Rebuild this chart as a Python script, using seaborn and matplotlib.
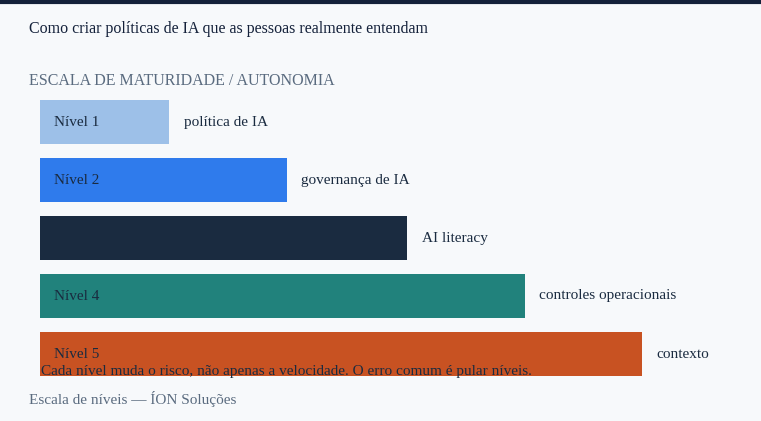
import matplotlib
matplotlib.use("Agg")
import matplotlib.pyplot as plt
import seaborn as sns
import pandas as pd

levels = ["Nível 1", "Nível 2", "Nível 3", "Nível 4", "Nível 5"]
values = [21.5, 41, 61, 80.5, 100]
labels = ["política de IA", "governança de IA", "AI literacy", "controles operacionais", "contexto"]
colors = ["#9dc0e8", "#2f7bec", "#1a2b40", "#21827c", "#c85222"]

sns.set_theme(style="white")
plt.rcParams["font.family"] = ["Liberation Serif", "DejaVu Sans"]

W, H = 761, 421
bg = "#f7f9fb"
fig = plt.figure(figsize=(W / 100, H / 100), dpi=100, facecolor=bg)
ax = fig.add_axes([40 / W, 1 - 383 / H, 700 / W, 290 / H])
ax.set_facecolor("none")

df = pd.DataFrame({"level": levels, "value": values})
sns.barplot(data=df, y="level", x="value", hue="level", palette=colors, legend=False,
            orient="h", width=0.76, ax=ax, saturation=1, linewidth=0)
ax.set_xlim(0, 100 * 700 / 602)
ax.set_ylim(4.5, -0.5)
ax.axis("off")

for i, (lv, v, lb) in enumerate(zip(levels, values, labels)):
    ax.text(2.4, i, lv, va="center", ha="left", fontsize=11, color="#1a2b40")
    ax.text(v + 2.4, i, lb, va="center", ha="left", fontsize=11, color="#1a2b40")

fig.add_artist(plt.Line2D([0, 1], [1 - 2 / H, 1 - 2 / H], color="#14213a", lw=3))
fig.text(29 / W, 1 - 29 / H, "Como criar políticas de IA que as pessoas realmente entendam",
         fontsize=11.5, color="#14213a", va="center")
fig.text(29 / W, 1 - 81 / H, "ESCALA DE MATURIDADE / AUTONOMIA",
         fontsize=11.5, color="#5a6b7f", va="center")
fig.text(41 / W, 1 - 371 / H, "Cada nível muda o risco, não apenas a velocidade. O erro comum é pular níveis.",
         fontsize=11, color="#1a2b40", va="center")
fig.text(29 / W, 1 - 399 / H, "Escala de níveis — ÍON Soluções",
         fontsize=11, color="#5a6b7f", va="center")

fig.savefig("out.png", dpi=100, facecolor=bg)
